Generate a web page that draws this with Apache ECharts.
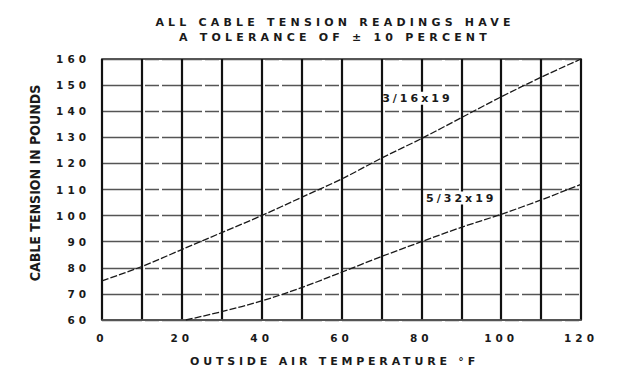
<!DOCTYPE html>
<html>
<head>
<meta charset="utf-8">
<script src="https://cdn.jsdelivr.net/npm/echarts@6/dist/echarts.min.js"></script>
<style>
html,body{margin:0;padding:0;background:#fff;}
#c{width:639px;height:381px;}
</style>
</head>
<body>
<div id="c"></div>
<script>
const titleLines = ['ALL CABLE TENSION READINGS HAVE', 'A TOLERANCE OF \u00B1 10 PERCENT'];
const xName = 'OUTSIDE AIR TEMPERATURE \u00B0F';
const yName = 'CABLE TENSION IN POUNDS';
const seriesNames = ['3/16x19', '5/32x19'];
const temps316 = [0, 10, 20, 30, 40, 50, 60, 70, 80, 90, 100, 110, 120];
const tension316 = [75, 80.5, 87, 93.5, 100, 107, 114, 122, 129.5, 137.5, 145.5, 153, 160];
const temps532 = [21, 30, 40, 50, 60, 70, 80, 90, 100, 110, 120];
const tension532 = [60, 63.2, 67.3, 72.4, 78.3, 84.3, 90, 95.5, 100.5, 106, 112];
const labelPos316 = [79, 145];
const labelPos532 = [90, 106.7];

const chart = echarts.init(document.getElementById('c'), null, {renderer: 'svg'});
const ink = '#1a1a1a';
const boldFont = 'DejaVu Sans';
const zip = (xs, ys) => xs.map((x, i) => [x, ys[i]]);
const curveLabel = (name, pos) => ({
  symbol: 'circle', symbolSize: 0,
  label: {show: false},
  data: [{
    coord: pos, value: name,
    label: {
      show: true, position: 'inside', formatter: name,
      color: ink, fontFamily: boldFont, fontWeight: 'bold', fontSize: 11,
      backgroundColor: '#fff', padding: [1, 2]
    }
  }]
});

chart.setOption({
  animation: false,
  backgroundColor: '#fff',
  title: {
    text: titleLines.join('\n'),
    left: 330, top: 10, textAlign: 'center',
    textStyle: {color: ink, fontFamily: boldFont, fontWeight: 'bold', fontSize: 11, lineHeight: 15}
  },
  grid: {left: 102, right: 58, top: 59, bottom: 61, show: true, borderColor: '#222', borderWidth: 1.6},
  xAxis: {
    type: 'value', min: 0, max: 120, interval: 10,
    name: xName, nameLocation: 'middle', nameGap: 36,
    nameTextStyle: {color: ink, fontFamily: boldFont, fontWeight: 'bold', fontSize: 11, padding: [0, 14, 0, 0]},
    axisLine: {show: true, lineStyle: {color: '#555', width: 1.5}},
    axisTick: {show: false},
    axisLabel: {
      margin: 12, color: ink, fontFamily: boldFont, fontWeight: 'bold', fontSize: 10.5,
      formatter: v => (v % 20 === 0 ? String(v) : '')
    },
    splitLine: {show: true, lineStyle: {color: '#111', width: 2.2}}
  },
  yAxis: {
    type: 'value', min: 60, max: 160, interval: 10,
    name: yName, nameLocation: 'middle', nameGap: 60, nameRotate: 90,
    nameTextStyle: {color: ink, fontFamily: 'Liberation Sans Narrow, DejaVu Sans Condensed, sans-serif', fontWeight: 'bold', fontSize: 14, padding: [0, 0, 0, 13]},
    axisLine: {show: false},
    axisTick: {show: false},
    axisLabel: {margin: 12, color: ink, fontFamily: boldFont, fontWeight: 'bold', fontSize: 10.5},
    splitLine: {show: true, lineStyle: {color: '#555', width: 1.4, type: [40, 3, 14, 3]}}
  },
  series: [
    {
      name: seriesNames[0], type: 'line', data: zip(temps316, tension316),
      showSymbol: false, smooth: 0.3, z: 3,
      lineStyle: {color: ink, width: 1.3, type: [7, 2]},
      markPoint: curveLabel(seriesNames[0], labelPos316)
    },
    {
      name: seriesNames[1], type: 'line', data: zip(temps532, tension532),
      showSymbol: false, smooth: 0.3, z: 3,
      lineStyle: {color: ink, width: 1.3, type: [7, 2]},
      markPoint: curveLabel(seriesNames[1], labelPos532)
    }
  ]
});

function applySpacing() {
  const texts = document.querySelectorAll('#c text');
  texts.forEach(t => {
    const s = (t.textContent || '').trim();
    let ls = null;
    if (s === titleLines[0] || s === titleLines[1]) ls = 4.2;
    else if (s === xName) ls = 3.8;
    else if (s === seriesNames[0] || s === seriesNames[1]) ls = 3;
    else if (/^\d+$/.test(s)) ls = 4;
    if (ls !== null) t.setAttribute('letter-spacing', ls);
  });
}
if (chart.getZr().flush) chart.getZr().flush();
applySpacing();
chart.on('finished', applySpacing);
setTimeout(applySpacing, 50);
</script>
</body>
</html>
